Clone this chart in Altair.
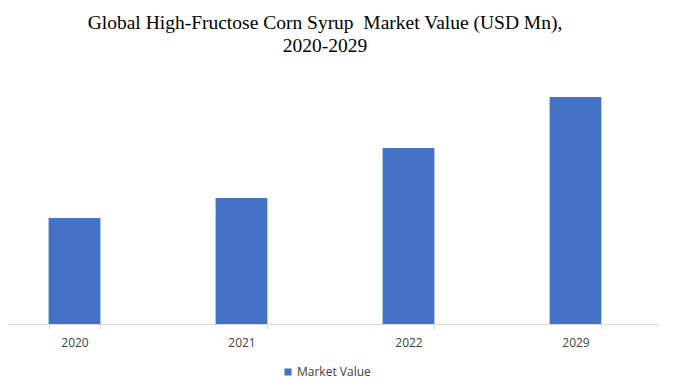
import altair as alt
import pandas as pd

years = ["2020", "2021", "2022", "2029"]
values = [1060, 1260, 1760, 2270]
series = ["Market Value"] * 4

df = pd.DataFrame({"Year": years, "Value": values, "Series": series})

chart = (
    alt.Chart(df)
    .mark_bar(color="#4472C4")
    .encode(
        x=alt.X(
            "Year:N",
            sort=years,
            title=None,
            scale=alt.Scale(range=[-17, 651], paddingInner=0.69, paddingOuter=0.345),
            axis=alt.Axis(
                labelAngle=0,
                tickBand="extent",
                domainColor="#d9d9d9",
                tickColor="#d9d9d9",
                tickSize=5,
                labelColor="#404040",
                labelFont="Open Sans",
                labelFontSize=12,
                labelPadding=8,
            ),
        ),
        y=alt.Y("Value:Q", scale=alt.Scale(domain=[0, 2360]), axis=None),
        fill=alt.Fill(
            "Series:N",
            scale=alt.Scale(range=["#4472C4"]),
            legend=alt.Legend(
                title=None,
                orient="none",
                legendX=274,
                legendY=278,
                symbolType="square",
                symbolSize=50,
                symbolStrokeWidth=0,
                labelFont="Open Sans",
                labelFontSize=12,
                labelColor="#404040",
                labelOffset=3,
            ),
        ),
    )
    .properties(
        width=660,
        height=236,
        autosize=alt.AutoSizeParams(type="none"),
        padding={"left": 0, "top": 80, "right": 6, "bottom": 55},
        title=alt.Title(
            text=["Global High-Fructose Corn Syrup\u00a0 Market Value (USD Mn),", "2020-2029"],
            font="Liberation Serif",
            fontSize=19.5,
            fontWeight="normal",
            color="#000000",
            anchor="middle",
            dx=-13,
            offset=32,
            lineHeight=23,
        ),
    )
    .configure_view(stroke=None)
)

chart.save("out.html", embed_options={"renderer": "svg", "actions": False})
